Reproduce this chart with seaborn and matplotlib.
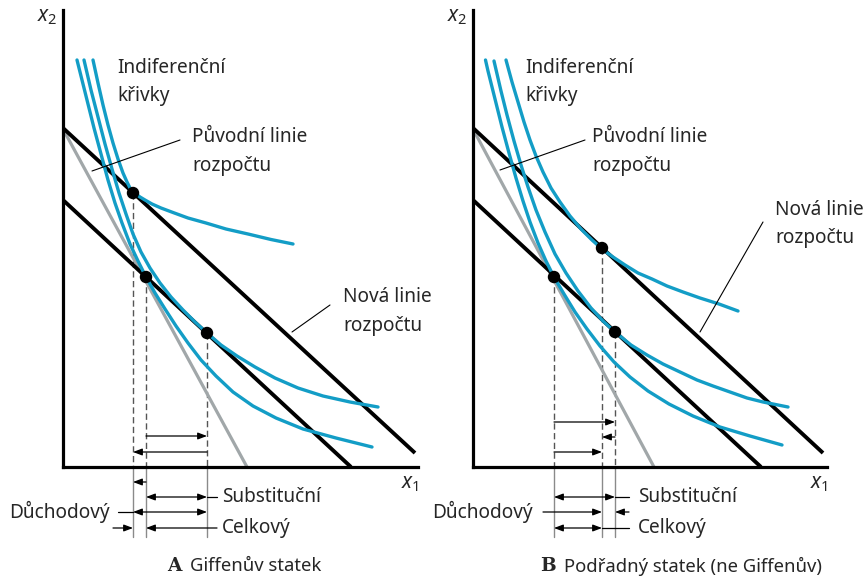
import matplotlib
matplotlib.use("Agg")
import matplotlib.pyplot as plt
import seaborn as sns

# drawing units: 1 unit = 10 px of the original picture, origin at the axis corner

# ---------- panel A: Giffenuv statek ----------
a_new_budget_x = [0.0, 35.2]
a_new_budget_y = [33.9, 1.4]
a_comp_budget_x = [0.0, 28.8]
a_comp_budget_y = [26.7, 0.0]
a_old_budget_x = [0.0, 18.4]
a_old_budget_y = [33.8, 0.0]

a_ic1_x = [3.0, 3.5, 4.0, 4.5, 5.0, 5.5, 6.0, 6.4, 6.7, 7.0, 7.3, 7.7, 8.2, 8.9, 9.8, 11.0, 12.5, 14.3, 16.3, 18.5, 20.8, 23.0]
a_ic1_y = [40.7, 38.4, 36.2, 34.2, 32.4, 30.8, 29.4, 28.5, 27.9, 27.5, 27.3, 27.0, 26.7, 26.3, 25.9, 25.45, 24.9, 24.4, 23.8, 23.3, 22.75, 22.3]
a_ic2_x = [2.1, 2.8, 3.5, 4.2, 4.9, 5.6, 6.3, 7.0, 7.8, 8.7, 9.7, 10.8, 12.0, 13.2, 14.4, 15.8, 17.4, 19.2, 21.2, 23.5, 26.0, 28.7, 31.5]
a_ic2_y = [40.7, 37.7, 35.0, 32.3, 29.8, 27.4, 25.3, 23.3, 21.5, 19.9, 18.4, 17.0, 15.7, 14.5, 13.4, 12.2, 11.1, 10.0, 8.9, 7.9, 7.1, 6.5, 6.0]
a_ic3_x = [1.4, 1.7, 2.4, 3.1, 3.8, 4.5, 5.2, 5.9, 6.7, 7.5, 8.3, 9.2, 10.2, 11.3, 12.5, 13.8, 15.3, 17.0, 19.0, 21.3, 24.0, 27.3, 30.9]
a_ic3_y = [40.7, 39.5, 36.7, 33.9, 31.3, 28.7, 26.4, 24.4, 22.3, 20.6, 19.0, 17.4, 15.8, 14.1, 12.4, 10.7, 9.1, 7.5, 6.1, 4.9, 3.8, 2.9, 2.0]

a_points_x = [7.0, 8.3, 14.4]
a_points_y = [27.4, 19.0, 13.4]

# ---------- panel B: Podradny statek ----------
b_new_budget_x = [0.0, 35.0]
b_new_budget_y = [33.9, 1.4]
b_comp_budget_x = [0.0, 28.8]
b_comp_budget_y = [26.7, 0.0]
b_old_budget_x = [0.0, 18.1]
b_old_budget_y = [33.8, 0.0]

b_ic1_x = [3.3, 3.9, 4.5, 5.1, 5.7, 6.3, 7.0, 7.8, 8.7, 9.7, 10.8, 11.9, 12.9, 14.0, 15.2, 16.5, 17.9, 19.4, 21.0, 22.7, 24.6, 26.5]
b_ic1_y = [40.7, 38.5, 36.5, 34.5, 32.7, 31.1, 29.5, 27.9, 26.5, 25.1, 23.8, 22.7, 21.8, 21.0, 20.2, 19.4, 18.8, 18.1, 17.5, 16.9, 16.3, 15.6]
b_ic2_x = [2.1, 2.8, 3.4, 4.1, 4.8, 5.5, 6.3, 7.2, 8.2, 9.3, 10.5, 11.8, 13.0, 14.2, 15.8, 17.4, 19.0, 20.7, 22.4, 24.0, 25.7, 27.4, 29.0, 31.5]
b_ic2_y = [40.6, 37.6, 35.2, 32.6, 30.2, 28.0, 25.7, 23.5, 21.3, 19.4, 17.6, 15.9, 14.6, 13.5, 12.2, 11.2, 10.3, 9.5, 8.7, 8.1, 7.5, 6.9, 6.5, 6.0]
b_ic3_x = [1.25, 1.5, 2.2, 2.9, 3.6, 4.3, 5.0, 5.7, 6.5, 7.3, 8.1, 9.1, 10.2, 11.4, 12.7, 14.1, 15.7, 17.5, 19.6, 22.0, 24.7, 27.7, 30.9]
b_ic3_y = [40.7, 39.6, 36.8, 34.0, 31.4, 28.9, 26.6, 24.5, 22.4, 20.6, 19.0, 17.3, 15.5, 13.8, 12.1, 10.5, 9.0, 7.6, 6.3, 5.1, 4.0, 3.1, 2.2]

b_points_x = [8.1, 12.9, 14.2]
b_points_y = [19.0, 21.9, 13.5]

# arrows: (x from, x to, height, style)
a_arrows = [(8.3, 14.4, 3.1, '-|>'), (14.4, 7.0, 1.5, '-|>'),
            (8.3, 7.0, -1.5, '-|>'), (8.3, 14.4, -3.0, '<|-|>'),
            (7.0, 14.4, -4.5, '<|-|>'), (5.0, 7.0, -6.1, '-|>'), (15.4, 8.3, -6.1, '-|>')]
a_leaders = [(14.4, 15.4, -3.0), (5.5, 7.0, -4.5)]
b_arrows = [(8.1, 14.2, 4.5, '-|>'), (14.2, 12.9, 3.0, '-|>'), (8.1, 12.9, 1.5, '-|>'),
            (8.1, 14.2, -3.0, '<|-|>'), (7.0, 12.9, -4.5, '-|>'),
            (15.6, 14.2, -4.5, '-|>'), (8.1, 12.9, -6.1, '<|-|>')]
b_leaders = [(14.2, 15.6, -3.0), (12.9, 15.6, -6.1)]

# labels
ic_label = ["Indiferenční", "křivky"]
old_label = ["Původní linie", "rozpočtu"]
new_label = ["Nová linie", "rozpočtu"]
effect_labels = ["Substituční", "Důchodový", "Celkový"]
a_title = ("A", "Giffenův statek")
b_title = ("B", "Podřadný statek (ne Giffenův)")

# label anchor points
a_ic_pos, b_ic_pos = (5.4, 39.9), (5.2, 39.9)
a_old_pos, b_old_pos = (12.9, 33.0), (11.9, 33.0)
a_new_pos, b_new_pos = (28.0, 17.0), (30.2, 25.7)
a_old_ptr = ([11.7, 2.9], [32.7, 29.6])
b_old_ptr = ([11.2, 2.7], [32.7, 29.7])
a_new_ptr = ([26.7, 22.9], [16.2, 13.5])
b_new_ptr = ([29.0, 22.7], [24.5, 13.5])
a_effect_x = (15.9, 4.7, 15.9)
b_effect_x = (16.5, 6.0, 16.5)
a_title_x = (10.4, 12.7)
b_title_x = (6.7, 9.1)

sns.set_style("white")
plt.rcParams['font.family'] = ['Noto Sans', 'DejaVu Sans']
plt.rcParams['mathtext.fontset'] = 'custom'
plt.rcParams['mathtext.it'] = 'Noto Sans:italic'
plt.rcParams['mathtext.rm'] = 'Noto Sans'

BLUE = '#139dc6'
GREY = '#a1a7a9'
FS = 13.7

fig = plt.figure(figsize=(8.66, 5.78), dpi=100)
W, H = 866, 578
ax_a = fig.add_axes([63 / W, 111 / H, 355 / W, 457 / H])
ax_b = fig.add_axes([473 / W, 111 / H, 354 / W, 457 / H])


def draw_panel(ax, xmax, budgets, ics, pts, arrows, leaders, ptrs, label_pos,
               effect_x, title, title_x):
    for bx, by, col in budgets:
        sns.lineplot(x=bx, y=by, ax=ax, color=col, lw=2.8 if col == 'black' else 2.3,
                     sort=False, estimator=None, solid_capstyle='butt')
    for ix, iy in ics:
        sns.lineplot(x=ix, y=iy, ax=ax, color=BLUE, lw=2.4, sort=False, estimator=None,
                     solid_joinstyle='round')

    px, py = pts
    for x, y in zip(px, py):
        ax.plot([x, x], [y, 0], color='#555555', lw=1.0, ls=(0, (4.5, 2.5)), zorder=1)
        ax.plot([x, x], [0, -7.0], color='#8a8a8a', lw=1.0, clip_on=False, zorder=1)
    sns.scatterplot(x=px, y=py, ax=ax, color='black', s=80, edgecolor='none', zorder=5)

    for x0, x1, y, style in arrows:
        ax.annotate('', xy=(x1, y), xytext=(x0, y), annotation_clip=False,
                    arrowprops=dict(arrowstyle=style + ',head_length=0.45,head_width=0.17',
                                    color='black', lw=0.9, mutation_scale=12,
                                    shrinkA=0, shrinkB=0))
    for x0, x1, y in leaders:
        ax.plot([x0, x1], [y, y], color='black', lw=0.9, clip_on=False)
    for lx, ly in ptrs:
        ax.plot(lx, ly, color='black', lw=0.8, clip_on=False)

    for lines, (tx, ty) in label_pos:
        for i, line in enumerate(lines):
            ax.text(tx, ty - i * 2.85, line, fontsize=FS, ha='left', va='center')

    ax.text(effect_x[0], -3.0, effect_labels[0], fontsize=FS, ha='left', va='center')
    ax.text(effect_x[1], -4.5, effect_labels[1], fontsize=FS, ha='right', va='center')
    ax.text(effect_x[2], -6.1, effect_labels[2], fontsize=FS, ha='left', va='center')

    ax.text(title_x[0], -9.9, title[0], fontsize=13.3, ha='left', va='center',
            family='DejaVu Serif', weight='bold')
    ax.text(title_x[1], -9.9, title[1], fontsize=13.3, ha='left', va='center')

    ax.text(-0.6, 45.0, r'$x_{2}$', fontsize=15, ha='right', va='center')
    ax.text(xmax - 1.7, -1.6, r'$x_{1}$', fontsize=15, ha='left', va='center')

    ax.set_xlim(0, xmax)
    ax.set_ylim(0, 45.7)
    ax.set_xticks([])
    ax.set_yticks([])
    ax.set_xlabel('')
    ax.set_ylabel('')
    sns.despine(ax=ax)
    for s in ('left', 'bottom'):
        ax.spines[s].set_linewidth(2.3)
        ax.spines[s].set_color('black')
    ax.patch.set_alpha(0)


draw_panel(ax_a, 35.5,
           [(a_old_budget_x, a_old_budget_y, GREY),
            (a_new_budget_x, a_new_budget_y, 'black'),
            (a_comp_budget_x, a_comp_budget_y, 'black')],
           [(a_ic1_x, a_ic1_y), (a_ic2_x, a_ic2_y), (a_ic3_x, a_ic3_y)],
           (a_points_x, a_points_y), a_arrows, a_leaders, [a_old_ptr, a_new_ptr],
           [(ic_label, a_ic_pos), (old_label, a_old_pos), (new_label, a_new_pos)],
           a_effect_x, a_title, a_title_x)

draw_panel(ax_b, 35.4,
           [(b_old_budget_x, b_old_budget_y, GREY),
            (b_new_budget_x, b_new_budget_y, 'black'),
            (b_comp_budget_x, b_comp_budget_y, 'black')],
           [(b_ic1_x, b_ic1_y), (b_ic2_x, b_ic2_y), (b_ic3_x, b_ic3_y)],
           (b_points_x, b_points_y), b_arrows, b_leaders, [b_old_ptr, b_new_ptr],
           [(ic_label, b_ic_pos), (old_label, b_old_pos), (new_label, b_new_pos)],
           b_effect_x, b_title, b_title_x)

fig.savefig('out.png', dpi=100, facecolor='white')
